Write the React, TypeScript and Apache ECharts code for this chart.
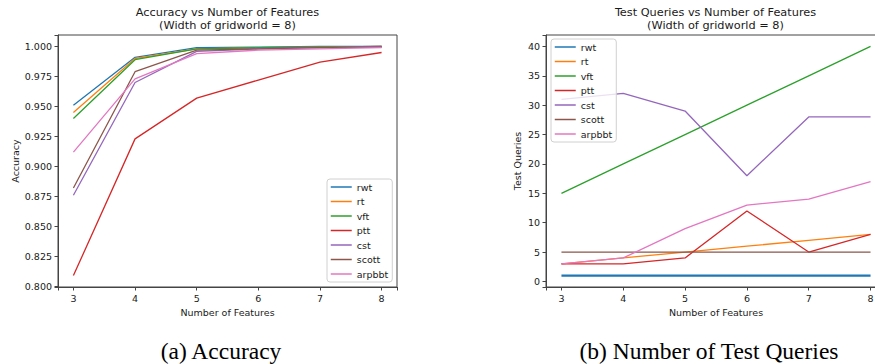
import React, { useEffect, useRef } from 'react';
import * as echarts from 'echarts';

const features = [3, 4, 5, 6, 7, 8];
const seriesNames = ['rwt', 'rt', 'vft', 'ptt', 'cst', 'scott', 'arpbbt'];
const colors = ['#1f77b4', '#ff7f0e', '#2ca02c', '#d62728', '#9467bd', '#8c564b', '#e377c2'];

const accRwt = [0.951, 0.991, 0.999, 0.9995, 1.0, 1.0];
const accRt = [0.945, 0.99, 0.998, 0.999, 0.9995, 1.0];
const accVft = [0.94, 0.989, 0.998, 0.999, 0.9995, 1.0];
const accPtt = [0.809, 0.923, 0.957, 0.972, 0.987, 0.995];
const accCst = [0.876, 0.97, 0.996, 0.998, 0.999, 1.0];
const accScott = [0.882, 0.979, 0.997, 0.998, 0.999, 0.9995];
const accArpbbt = [0.912, 0.973, 0.994, 0.997, 0.998, 0.999];

const tqRwt = [1, 1, 1, 1, 1, 1];
const tqRt = [3, 4, 5, 6, 7, 8];
const tqVft = [15, 20, 25, 30, 35, 40];
const tqPtt = [3, 3, 4, 12, 5, 8];
const tqCst = [31, 32, 29, 18, 28, 28];
const tqScott = [5, 5, 5, 5, 5, 5];
const tqArpbbt = [3, 4, 9, 13, 14, 17];

const accData = [accRwt, accRt, accVft, accPtt, accCst, accScott, accArpbbt];
const tqData = [tqRwt, tqRt, tqVft, tqPtt, tqCst, tqScott, tqArpbbt];

const titleA = 'Accuracy vs Number of Features\n(Width of gridworld = 8)';
const titleB = 'Test Queries vs Number of Features\n(Width of gridworld = 8)';
const captionA = '(a) Accuracy';
const captionB = '(b) Number of Test Queries';

const FONT = 'DejaVu Sans';
const TXT = '#1a1a1a';
const AX = '#444';

function isMult(v: number, step: number) {
  const r = v / step;
  return Math.abs(r - Math.round(r)) < 1e-6;
}

function xAxisCfg(gridIndex: number) {
  return {
    type: 'value',
    gridIndex,
    min: 2.75,
    max: 8.25,
    minInterval: 1,
    maxInterval: 1,
    name: 'Number of Features',
    nameLocation: 'middle',
    nameGap: 20,
    nameTextStyle: { fontSize: 9.5, color: TXT, fontFamily: FONT },
    axisLine: { show: true, onZero: false, lineStyle: { color: AX, width: 1 } },
    axisTick: { show: true, length: 3.5, lineStyle: { color: AX, width: 1 } },
    axisLabel: {
      fontSize: 9.5,
      color: TXT,
      fontFamily: FONT,
      margin: 6,
      formatter: (v: number) => (isMult(v, 1) ? String(Math.round(v)) : ''),
    },
    splitLine: { show: false },
  };
}

export default function App() {
  const ref = useRef<HTMLDivElement>(null);
  useEffect(() => {
    if (!ref.current) return;
    const chart = echarts.init(ref.current, null, { renderer: 'svg' });
    const series: any[] = [];
    seriesNames.forEach((n, i) => {
      series.push({
        name: n,
        type: 'line',
        xAxisIndex: 0,
        yAxisIndex: 0,
        symbol: 'none',
        color: colors[i],
        lineStyle: { width: 1.3, color: colors[i] },
        data: features.map((f, j) => [f, accData[i][j]]),
      });
    });
    seriesNames.forEach((n, i) => {
      series.push({
        name: n,
        type: 'line',
        xAxisIndex: 1,
        yAxisIndex: 1,
        symbol: 'none',
        color: colors[i],
        lineStyle: { width: i === 0 ? 2.2 : 1.3, color: colors[i] },
        data: features.map((f, j) => [f, tqData[i][j]]),
      });
    });
    const legendCommon = {
      orient: 'vertical',
      itemWidth: 21,
      itemHeight: 10,
      itemGap: 4.5,
      padding: [3, 4, 3, 3],
      backgroundColor: 'rgba(255,255,255,0.8)',
      borderColor: '#d0d0d0',
      borderWidth: 1,
      borderRadius: 3,
      itemStyle: { opacity: 0 },
      lineStyle: { width: 1.5 },
      textStyle: { fontSize: 9.5, color: TXT, fontFamily: FONT },
      data: seriesNames,
    };
    const option: any = {
      animation: false,
      backgroundColor: '#fff',
      grid: [
        { left: 58, top: 35, width: 339, height: 252, show: true, borderColor: AX, borderWidth: 1, backgroundColor: 'transparent', containLabel: false, outerBoundsMode: 'none' },
        { left: 546, top: 35, width: 340, height: 252, show: true, borderColor: AX, borderWidth: 1, backgroundColor: 'transparent', containLabel: false, outerBoundsMode: 'none' },
      ],
      xAxis: [xAxisCfg(0), xAxisCfg(1)],
      yAxis: [
        {
          type: 'value',
          gridIndex: 0,
          min: 0.7995,
          max: 1.0096,
          minInterval: 0.025,
          maxInterval: 0.025,
          name: 'Accuracy',
          nameLocation: 'middle',
          nameGap: 38,
          nameTextStyle: { fontSize: 9.5, color: TXT, fontFamily: FONT },
          axisLine: { show: true, onZero: false, lineStyle: { color: AX, width: 1 } },
          axisTick: { show: true, length: 3.5, lineStyle: { color: AX, width: 1 } },
          axisLabel: {
            fontSize: 9.5,
            color: TXT,
            fontFamily: FONT,
            margin: 6,
            formatter: (v: number) => (isMult(v, 0.025) ? v.toFixed(3) : ''),
          },
          splitLine: { show: false },
        },
        {
          type: 'value',
          gridIndex: 1,
          min: -0.95,
          max: 41.95,
          minInterval: 5,
          maxInterval: 5,
          name: 'Test Queries',
          nameLocation: 'middle',
          nameGap: 24,
          nameTextStyle: { fontSize: 9.5, color: TXT, fontFamily: FONT },
          axisLine: { show: true, onZero: false, lineStyle: { color: AX, width: 1 } },
          axisTick: { show: true, length: 3.5, lineStyle: { color: AX, width: 1 } },
          axisLabel: {
            fontSize: 9.5,
            color: TXT,
            fontFamily: FONT,
            margin: 6,
            formatter: (v: number) => (isMult(v, 5) ? String(Math.round(v)) : ''),
          },
          splitLine: { show: false },
        },
      ],
      legend: [
        { ...legendCommon, left: 327, top: 179 },
        { ...legendCommon, left: 551, top: 39 },
      ],
      graphic: [
        { type: 'text', x: 227.5, y: 6.5, style: { text: titleA, fill: TXT, fontSize: 11.3, fontFamily: FONT, align: 'center', verticalAlign: 'top', lineHeight: 12.5 } },
        { type: 'text', x: 715.5, y: 6.5, style: { text: titleB, fill: TXT, fontSize: 11.3, fontFamily: FONT, align: 'center', verticalAlign: 'top', lineHeight: 12.5 } },
        { type: 'text', x: 221, y: 351, style: { text: captionA, fill: '#000', fontSize: 23.5, fontFamily: 'Liberation Serif', align: 'center', verticalAlign: 'middle' } },
        { type: 'text', x: 709, y: 351, style: { text: captionB, fill: '#000', fontSize: 23.5, fontFamily: 'Liberation Serif', align: 'center', verticalAlign: 'middle' } },
      ],
      series,
    };
    chart.setOption(option);
    return () => chart.dispose();
  }, []);
  return <div ref={ref} style={{ position: 'absolute', left: 0, top: 0, width: 875, height: 364 }} />;
}
